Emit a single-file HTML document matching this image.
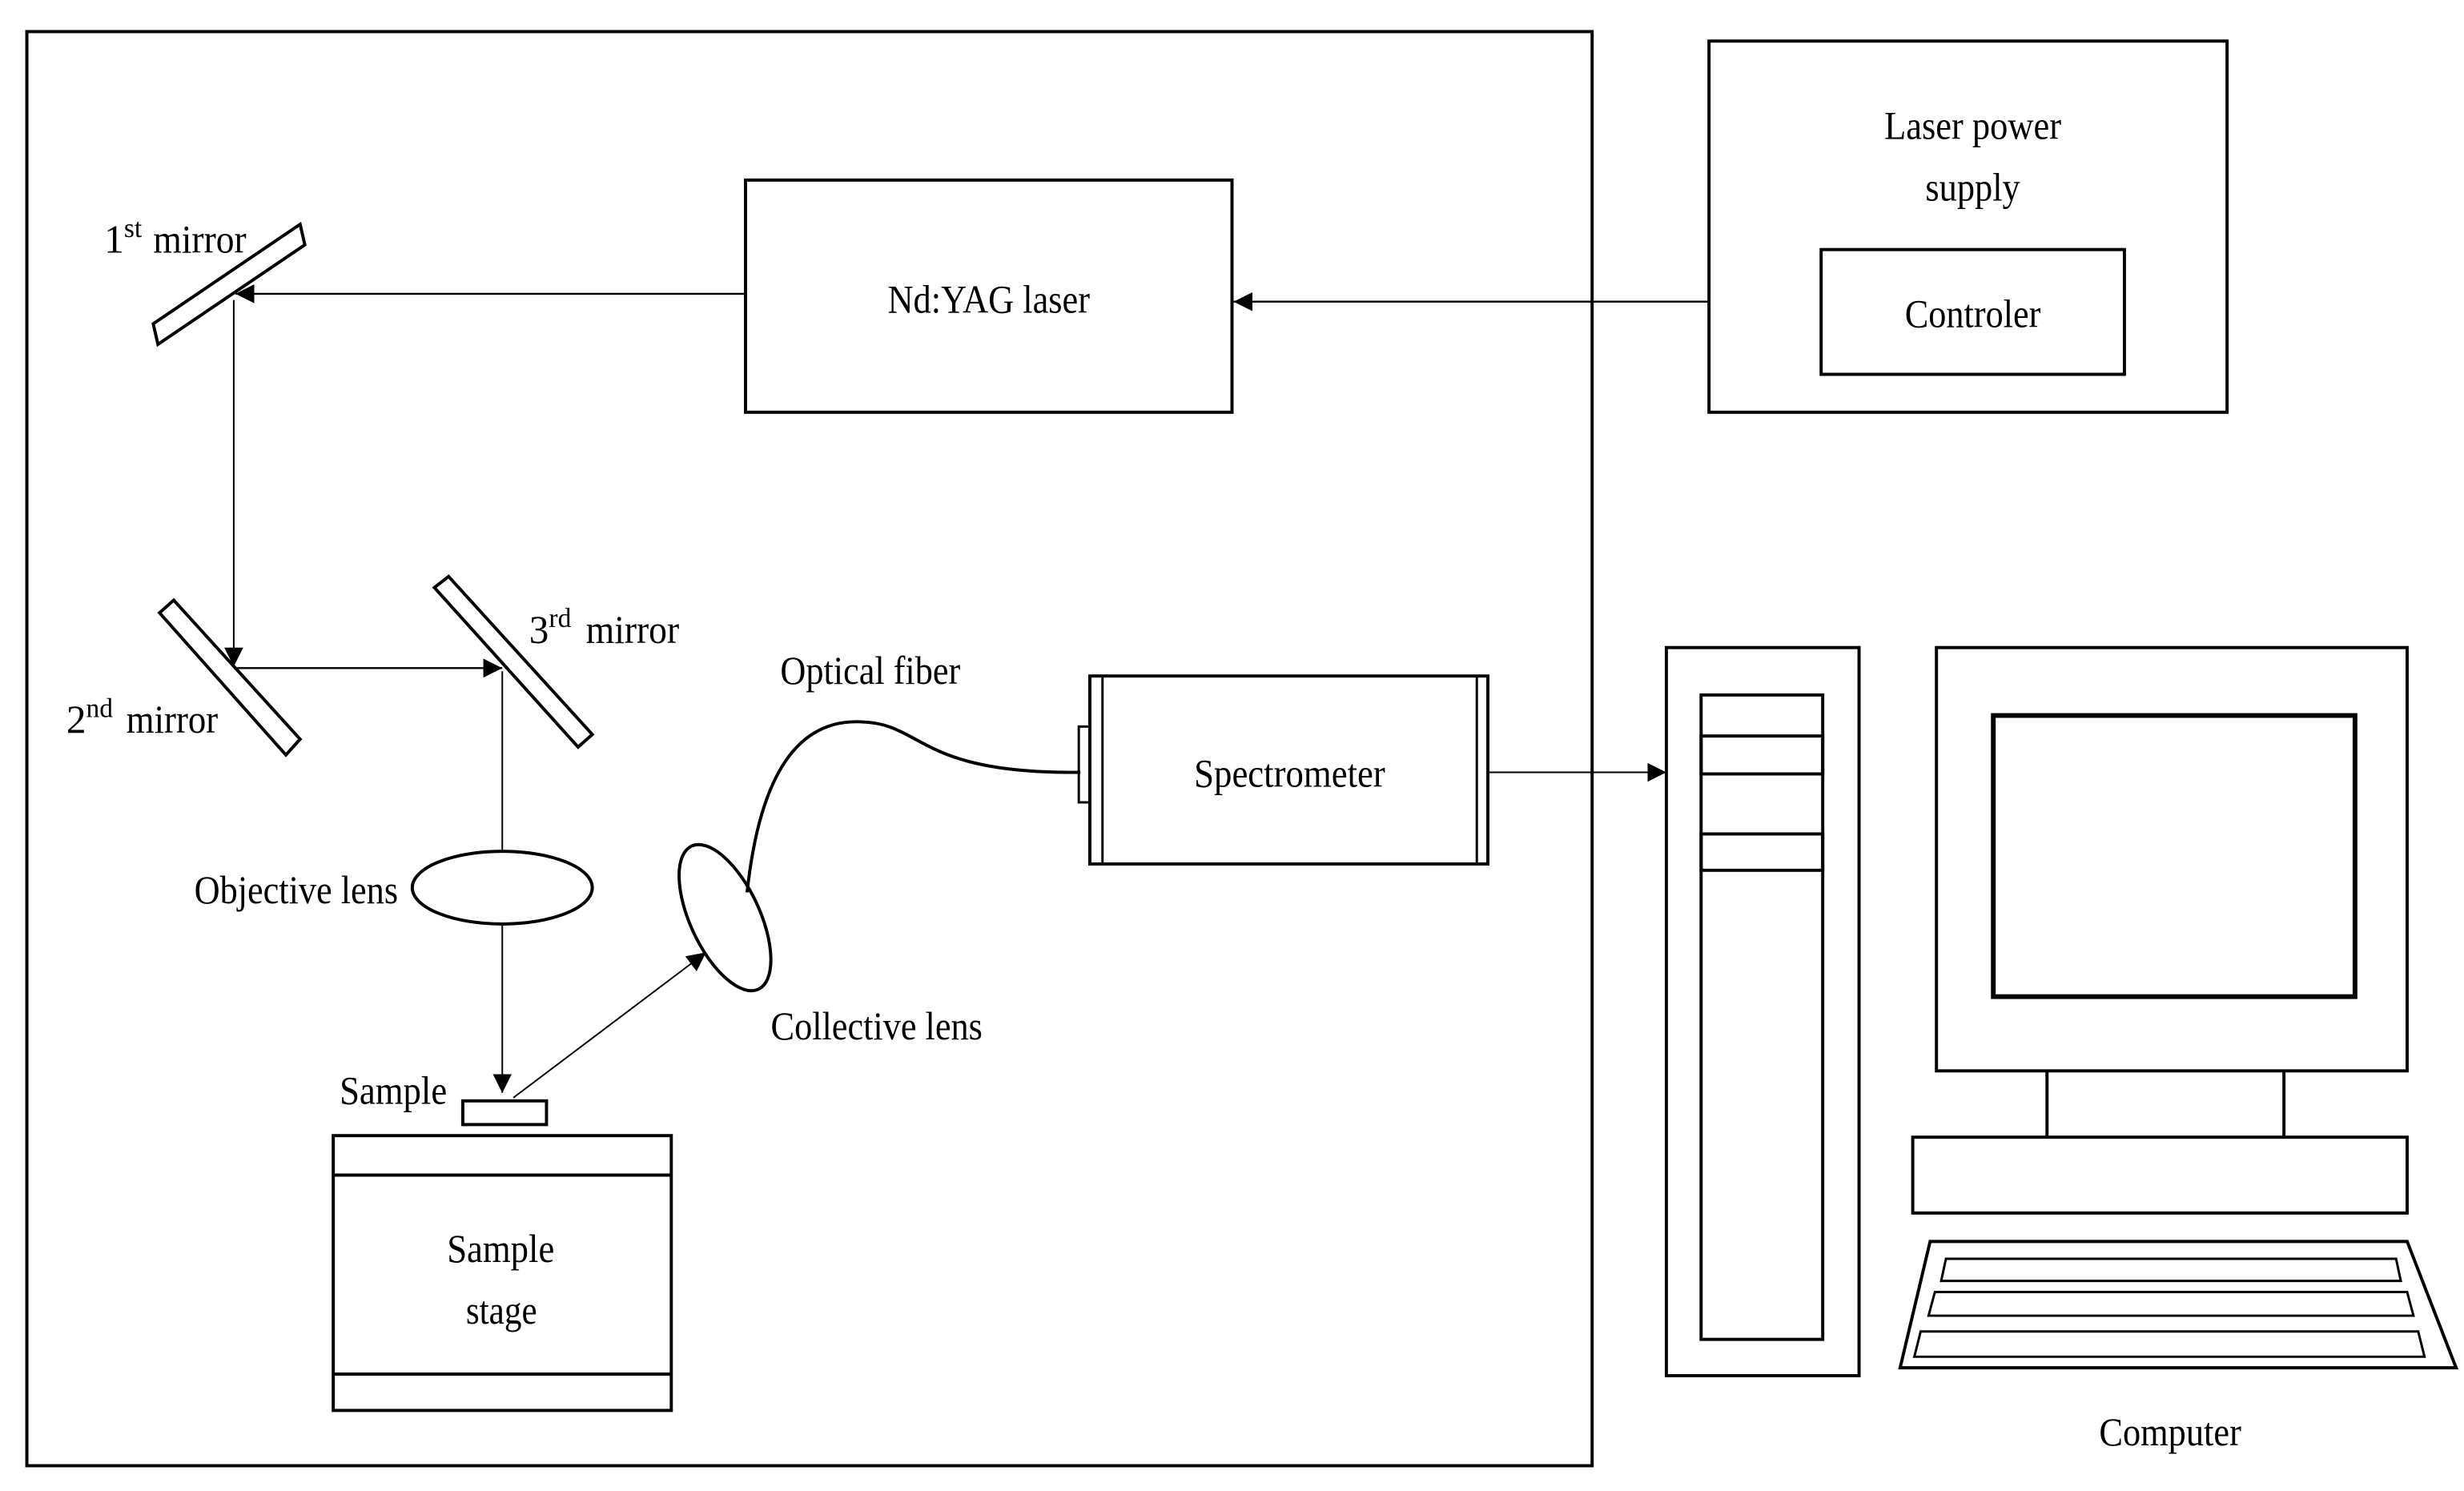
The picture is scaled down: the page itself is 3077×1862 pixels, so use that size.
<!DOCTYPE html>
<html><head><meta charset="utf-8"><style>html,body{margin:0;padding:0;background:#fff}svg{display:block}</style></head>
<body>
<svg width="3077" height="1862" viewBox="0 0 1560 944" xmlns="http://www.w3.org/2000/svg" font-family="'Liberation Serif', serif" font-size="25" fill="none" stroke="#000">
<defs>
<marker id="b" viewBox="0 0 10 10" refX="10" refY="5" markerWidth="12" markerHeight="12" orient="auto" markerUnits="userSpaceOnUse"><path d="M0,0 L10,5 L0,10z" fill="#000" stroke="none"/></marker>
</defs>
<rect x="17" y="20" width="991" height="908" stroke-width="2"/>
<rect x="1082" y="26" width="328" height="235" stroke-width="2"/>
<rect x="1153" y="158" width="192" height="79" stroke-width="2"/>
<rect x="472" y="114" width="308" height="147" stroke-width="2"/>
<line x1="1082" y1="191" x2="781" y2="191" stroke-width="1.2" marker-end="url(#b)"/>
<line x1="472" y1="186" x2="149" y2="186" stroke-width="1.2" marker-end="url(#b)"/>
<polygon points="97,205 190,142 193,155 100,218" fill="#fff" stroke-width="2"/>
<line x1="148" y1="190" x2="148" y2="422" stroke-width="1" marker-end="url(#b)"/>
<polygon points="101,388 110,380 190,468 181,478" fill="#fff" stroke-width="2"/>
<line x1="148" y1="423" x2="318" y2="423" stroke-width="1.2" marker-end="url(#b)"/>
<polygon points="275,372 284,365 375,465 366,473" fill="#fff" stroke-width="2"/>
<line x1="318" y1="425" x2="318" y2="692" stroke-width="1" marker-end="url(#b)"/>
<ellipse cx="318" cy="562" rx="57" ry="23" stroke-width="2" fill="#fff"/>
<rect x="293" y="697" width="53" height="15" stroke-width="2"/>
<rect x="211" y="719" width="214" height="174" stroke-width="2"/>
<line x1="211" y1="744" x2="425" y2="744" stroke-width="2"/>
<line x1="211" y1="870" x2="425" y2="870" stroke-width="2"/>
<line x1="325" y1="695" x2="447" y2="603" stroke-width="1" marker-end="url(#b)"/>
<ellipse cx="459" cy="581" rx="22" ry="50" transform="rotate(-25 459 581)" stroke-width="2" fill="#fff"/>
<path d="M473,565 C480,500 500,455 545,457 C585,458 580,490 684,489" stroke-width="2"/>
<rect x="690" y="428" width="252" height="119" stroke-width="2"/>
<line x1="698" y1="428" x2="698" y2="547" stroke-width="1.5"/>
<line x1="935" y1="428" x2="935" y2="547" stroke-width="1.5"/>
<rect x="683" y="460" width="7" height="48" stroke-width="1.5"/>
<line x1="942" y1="489" x2="1055" y2="489" stroke-width="1" marker-end="url(#b)"/>
<rect x="1055" y="410" width="122" height="461" stroke-width="2"/>
<rect x="1077" y="440" width="77" height="408" stroke-width="2"/>
<rect x="1077" y="466" width="77" height="24" stroke-width="2"/>
<rect x="1077" y="528" width="77" height="23" stroke-width="2"/>
<rect x="1226" y="410" width="298" height="268" stroke-width="2"/>
<rect x="1262" y="453" width="229" height="178" stroke-width="3"/>
<line x1="1296" y1="678" x2="1296" y2="720" stroke-width="2"/>
<line x1="1446" y1="678" x2="1446" y2="720" stroke-width="2"/>
<rect x="1211" y="720" width="313" height="48" stroke-width="2"/>
<polygon points="1222,786 1524,786 1555,866 1203,866" stroke-width="2"/>
<polygon points="1232,797 1517,797 1520,811 1229,811" stroke-width="1.5"/>
<polygon points="1225,818 1524,818 1528,833 1221,833" stroke-width="1.5"/>
<polygon points="1216,843 1531,843 1535,859 1212,859" stroke-width="1.5"/>
<g fill="#000" stroke="none" lengthAdjust="spacingAndGlyphs">
<text x="1193" y="88" textLength="112" lengthAdjust="spacingAndGlyphs">Laser power</text>
<text x="1219" y="127" textLength="60" lengthAdjust="spacingAndGlyphs">supply</text>
<text x="1206" y="207" textLength="86" lengthAdjust="spacingAndGlyphs">Controler</text>
<text x="562" y="198" textLength="128" lengthAdjust="spacingAndGlyphs">Nd:YAG laser</text>
<text x="66" y="160">1<tspan dy="-10" font-size="17">st</tspan><tspan x="97" dy="10" textLength="59" lengthAdjust="spacingAndGlyphs">mirror</tspan></text>
<text x="42" y="464">2<tspan dy="-10" font-size="17">nd</tspan><tspan x="80" dy="10" textLength="58" lengthAdjust="spacingAndGlyphs">mirror</tspan></text>
<text x="335" y="407">3<tspan dy="-10" font-size="17">rd</tspan><tspan x="371" dy="10" textLength="59" lengthAdjust="spacingAndGlyphs">mirror</tspan></text>
<text x="123" y="572" textLength="129" lengthAdjust="spacingAndGlyphs">Objective lens</text>
<text x="215" y="699" textLength="68" lengthAdjust="spacingAndGlyphs">Sample</text>
<text x="283" y="799" textLength="68" lengthAdjust="spacingAndGlyphs">Sample</text>
<text x="295" y="838" textLength="45" lengthAdjust="spacingAndGlyphs">stage</text>
<text x="488" y="658" textLength="134" lengthAdjust="spacingAndGlyphs">Collective lens</text>
<text x="494" y="433" textLength="114" lengthAdjust="spacingAndGlyphs">Optical fiber</text>
<text x="756" y="498" textLength="121" lengthAdjust="spacingAndGlyphs">Spectrometer</text>
<text x="1329" y="915" textLength="90" lengthAdjust="spacingAndGlyphs">Computer</text>
</g>
</svg>
</body></html>
